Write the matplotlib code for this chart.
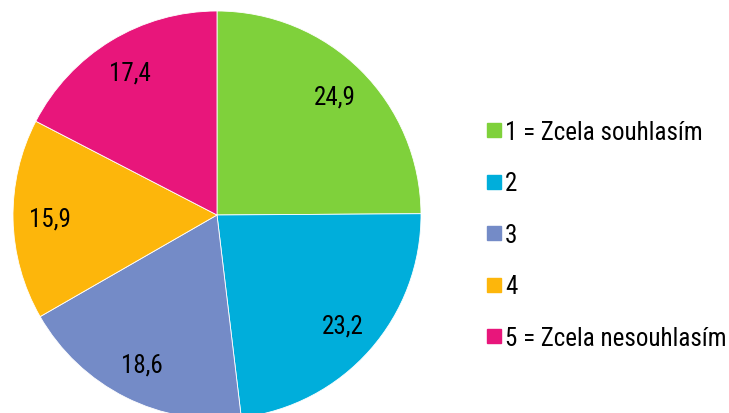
import matplotlib
matplotlib.use('Agg')
import matplotlib.pyplot as plt
from matplotlib.lines import Line2D

plt.rcParams['font.family'] = ['Roboto Condensed', 'Archivo Narrow', 'DejaVu Sans']

# values (percent)
categories = ['1 = Zcela souhlasím', '2', '3', '4', '5 = Zcela nesouhlasím']
values = [24.9, 23.2, 18.6, 15.9, 17.4]
value_labels = ['24,9', '23,2', '18,6', '15,9', '17,4']
colors = ['#7FD13B', '#00AEDB', '#748BC7', '#FDB60B', '#E8167B']

fig = plt.figure(figsize=(7.29, 4.14), dpi=100)

# pie axes: centre ~ (217, 216) px, radius ~ 204 px
W, H = 729, 414
cx, cy, r = 217, 216, 204
ax = fig.add_axes([(cx - r) / W, (H - cy - r) / H, 2 * r / W, 2 * r / H])
wedges, texts = ax.pie(values, colors=colors, startangle=90, counterclock=False,
                       radius=1, labels=value_labels, labeldistance=0.82,
                       wedgeprops=dict(edgecolor='white', linewidth=0.6),
                       textprops=dict(fontsize=18, color='black'))
for t in texts:
    t.set_horizontalalignment('center')
    t.set_verticalalignment('center')
ax.set_xlim(-1, 1)
ax.set_ylim(-1, 1)
ax.set_aspect('equal')
ax.axis('off')

handles = [Line2D([], [], marker='s', linestyle='none', markersize=9.4,
                  markerfacecolor=c, markeredgecolor=c) for c in colors]
fig.legend(handles, categories, loc='center left', bbox_to_anchor=(0.649, 0.43),
           frameon=False, fontsize=18, labelspacing=1.1, handlelength=0.7,
           handletextpad=0.08, borderpad=0)

fig.savefig('out.png', dpi=100)
